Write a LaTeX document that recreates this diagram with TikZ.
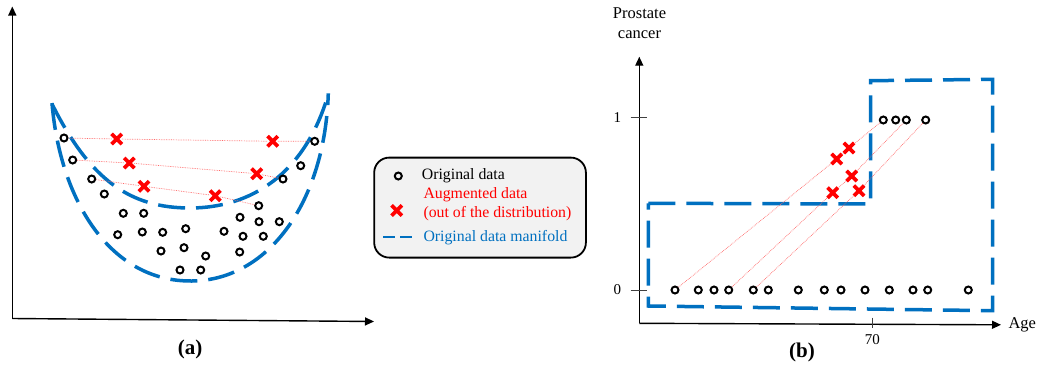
\documentclass[tikz,border=0pt]{standalone}
\usepackage{fontspec}
\setmainfont{Liberation Serif}
\usetikzlibrary{arrows.meta,shapes.misc}
\definecolor{manifold}{RGB}{0,112,192}
\definecolor{augred}{RGB}{255,0,0}
\definecolor{linkred}{RGB}{255,105,105}
\definecolor{legendbg}{RGB}{242,242,242}
\tikzset{
  orig/.style={circle, draw=black, line width=2pt, minimum size=7pt, inner sep=0pt},
  aug/.style={cross out, draw=augred, line width=3.7pt, minimum size=6.6pt, inner sep=0pt},
  link/.style={draw=linkred, line width=0.7pt, densely dotted},
  manifoldline/.style={draw=manifold, line width=3.5pt, dash pattern=on 27pt off 11pt},
  axis/.style={draw=black, line width=1.4pt, -{Triangle[length=9pt,width=8pt]}},
  tickmark/.style={draw=black!75, line width=0.9pt},
  axlabel/.style={font=\fontsize{16.5}{20}\selectfont, inner sep=0pt, align=center},
  ticklabel/.style={font=\fontsize{15}{18}\selectfont, inner sep=0pt},
  panelcap/.style={font=\fontsize{21}{24}\selectfont\bfseries, inner sep=0pt},
  legtext/.style={font=\fontsize{15.8}{18.3}\selectfont, inner sep=0pt, anchor=west, align=left},
}
\begin{document}
\begin{tikzpicture}[x=1pt,y=-1pt]
\fill[white] (0,0) rectangle (1039,367);

% ---------- panel (a): curved manifold ----------
\coordinate (aO) at (12.3,318.5);
\coordinate (aY) at (12.3,6.5);
\coordinate (aX) at (374,321.5);
\draw[axis] (aO) -- (aY);
\draw[axis] (aO) -- (aX);

\draw[manifoldline] (52,103) .. controls (60,200) and (110,282) .. (192,281)
                             .. controls (270,280) and (325,200) .. (328.3,93.3);
\draw[manifoldline] (52,104) .. controls (90,180) and (130,208) .. (190,208)
                             .. controls (250,208) and (305,175) .. (328.3,94);

\node[orig] (l1) at (64,138) {};
\node[orig] (l2) at (72.7,160) {};
\node[orig] (l3) at (91.7,179) {};
\node[orig] (l4) at (104.3,194) {};
\node[orig] (l5) at (123.3,213.3) {};
\node[orig] (l6) at (143.7,213.3) {};
\node[orig] (l7) at (117.7,234.7) {};
\node[orig] (l8) at (142.3,232) {};
\node[orig] (l9) at (162.7,232.3) {};
\node[orig] (l10) at (185.7,228.7) {};
\node[orig] (l11) at (161,251) {};
\node[orig] (l12) at (184,247.7) {};
\node[orig] (l13) at (205.7,256) {};
\node[orig] (l14) at (180,270) {};
\node[orig] (l15) at (200.7,270) {};
\node[orig] (l16) at (224,231.3) {};
\node[orig] (l17) at (240,217.3) {};
\node[orig] (l18) at (258.7,205.7) {};
\node[orig] (l19) at (259,221.7) {};
\node[orig] (l20) at (279.3,221.7) {};
\node[orig] (l21) at (243,236.3) {};
\node[orig] (l22) at (263.3,236.3) {};
\node[orig] (l23) at (239.7,252) {};
\node[orig] (l24) at (283,179) {};
\node[orig] (l25) at (300.7,165.7) {};
\node[orig] (l26) at (314.7,141.3) {};

\node[aug] (a1) at (116.7,139) {};
\node[aug] (a2) at (272.7,141.3) {};
\node[aug] (a3) at (129.3,163) {};
\node[aug] (a4) at (256.7,173.7) {};
\node[aug] (a5) at (144,186.3) {};
\node[aug] (a6) at (215.3,195.7) {};

\draw[link] (l1) -- (a1) -- (a2) -- (l26);
\draw[link] (l2) -- (a3) -- (a4) -- (l24);
\draw[link] (l3) -- (a5) -- (a6) -- (l18);

\node[panelcap] (capa) at (190,349.3) {(a)};

% ---------- legend ----------
\node[draw=black, line width=1.8pt, fill=legendbg, rounded corners=15pt,
      minimum width=211.7pt, minimum height=100pt, anchor=north west] (legend) at (373.3,156.7) {};
\node[orig] (legorig) at (398.3,176) {};
\node[legtext] (legorigtxt) at (421.7,176) {Original data};
\node[aug] (legaug) at (396.7,210.5) {};
\node[legtext, text=augred] (legaugtxt) at (423.3,204.2) {Augmented data\\(out of the distribution)};
\coordinate (legd1) at (383.3,237.3);
\coordinate (legd2) at (395,237.3);
\coordinate (legd3) at (400,237.3);
\coordinate (legd4) at (411.7,237.3);
\draw[manifold, line width=2.2pt] (legd1) -- (legd2) (legd3) -- (legd4);
\node[legtext, text=manifold] (legmantxt) at (423.3,237.3) {Original data manifold};

% ---------- panel (b): step-shaped manifold ----------
\coordinate (bO) at (639.3,323.3);
\coordinate (bY) at (639.3,56.7);
\coordinate (bX) at (1001,324.8);
\draw[axis] (bO) -- (bY);
\draw[axis] (bO) -- (bX);

\draw[tickmark] (630.7,117.5) -- (647.3,117.5);
\draw[tickmark] (630.7,290) -- (647.3,290);
\draw[tickmark] (872.3,317.7) -- (872.3,327.7);
\node[ticklabel] (yone) at (617.3,118) {1};
\node[ticklabel] (yzero) at (617.3,290) {0};
\node[ticklabel] (xseventy) at (872.3,339.5) {70};
\node[axlabel, anchor=west] (agelbl) at (1008.3,324.5) {Age};
\node[axlabel] (pclbl) at (639.5,23.5) {Prostate\\cancer};

\draw[manifoldline] (648.3,203.3) -- (870.7,204) -- (870.7,80.7) -- (992.7,79.3)
                    -- (992.7,310.7) -- (648.3,306) -- cycle;

\node[orig] (r1) at (675,290) {};
\node[orig] (r2) at (698.3,290) {};
\node[orig] (r3) at (714,290) {};
\node[orig] (r4) at (728.7,290) {};
\node[orig] (r5) at (753.3,290) {};
\node[orig] (r6) at (768.3,290) {};
\node[orig] (r7) at (798.3,290) {};
\node[orig] (r8) at (824.3,290) {};
\node[orig] (r9) at (841,290) {};
\node[orig] (r10) at (865,290) {};
\node[orig] (r11) at (889.3,290) {};
\node[orig] (r12) at (913,290) {};
\node[orig] (r13) at (927.7,290) {};
\node[orig] (r14) at (968.3,290) {};
\node[orig] (t1) at (883.3,120) {};
\node[orig] (t2) at (895.7,120) {};
\node[orig] (t3) at (906.3,120) {};
\node[orig] (t4) at (925.7,120) {};

\node[aug] (b1) at (849,148) {};
\node[aug] (b2) at (836.7,159) {};
\node[aug] (b3) at (851.7,176) {};
\node[aug] (b4) at (832.7,192.7) {};
\node[aug] (b5) at (859,190.7) {};

\draw[link] (r1) -- (b2) -- (b1) -- (t1);
\draw[link] (r4) -- (b4) -- (b3) -- (t3);
\draw[link] (r5) -- (b5) -- (t4);

\node[panelcap] (capb) at (802,352) {(b)};
\end{tikzpicture}
\end{document}
